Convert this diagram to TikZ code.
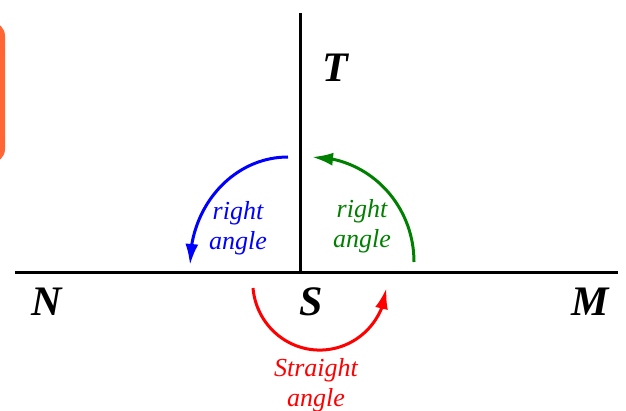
\documentclass[tikz,border=0pt]{standalone}
\usepackage{fontspec}
\setmainfont{Liberation Serif}
\usetikzlibrary{arrows.meta,bending,positioning}
\definecolor{Orange}{HTML}{FF6633}
\definecolor{Green}{HTML}{008000}
\tikzset{
  ray/.style={line width=1.5pt,black},
  pt/.style={font=\fontsize{21}{25}\selectfont\bfseries\itshape},
  lbl/.style={font=\fontsize{13}{15}\selectfont\itshape,align=center},
  turn/.style={line width=1.5pt,-{Latex[length=10.5pt,width=6.5pt,flex]}}
}

\begin{document}
\begin{tikzpicture}[x=.5pt,y=-.5pt]
        \clip(0,0)rectangle(626,411);
        \fill[Orange,rounded corners=7pt](-20,22)rectangle(5,163);
        % lines
        \coordinate(west)at(15,272);
        \coordinate(east)at(618,272);
        \coordinate(top)at(300,13);
        \coordinate(vertex)at(300,272);
        \draw[ray](west)--(east);
        \draw[ray](top)--(vertex);
        \node[pt](t)at(335,68){T};
        \node[pt](n)at(47,302){N};
        \node[pt](s)at(311,302){S};
        \node[pt](m)at(590,302){M};
        % angle marks
        \coordinate(blueStart)at(288,157);
        \coordinate(greenStart)at(414,262);
        \coordinate(redStart)at(253,288);
        \draw[turn,blue](blueStart)arc[start angle=-90,end angle=-180,x radius=98,y radius=108];
        \draw[turn,Green](greenStart)arc[start angle=0,end angle=-90,x radius=102,y radius=105];
        \draw[turn,red](redStart)arc[start angle=175,end angle=5,x radius=67,y radius=68];
        \node[lbl,blue](rb)at(238,228){right\\angle};
        \node[lbl,Green](rg)at(362,226){right\\angle};
        \node[lbl,red](st)at(316,385){Straight\\angle};
      \end{tikzpicture}
\end{document}
